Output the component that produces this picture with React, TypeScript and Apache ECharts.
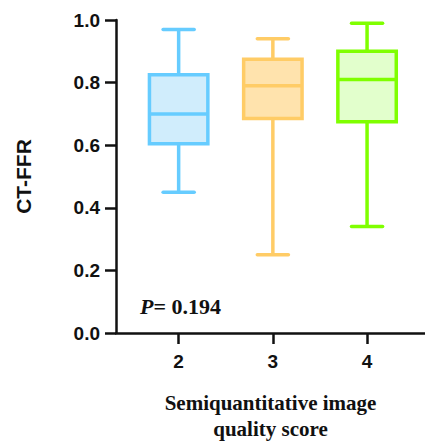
import React, { useEffect, useRef } from "react";
import * as echarts from "echarts";

const categories = [2, 3, 4];
// [min, Q1, median, Q3, max]
const boxStats = [
  [0.45, 0.605, 0.70, 0.825, 0.97],
  [0.25, 0.685, 0.79, 0.875, 0.94],
  [0.34, 0.675, 0.81, 0.90, 0.99],
];
const strokeColors = ["#66CCFF", "#FFCC66", "#7FFF00"];
const fillColors = ["#D0EDFC", "#FFE3AD", "#E2FFCC"];
const yTicks = [0, 0.2, 0.4, 0.6, 0.8, 1.0];
const pText = "= 0.194";

export default function App() {
  const ref = useRef<HTMLDivElement>(null);
  useEffect(() => {
    const chart = echarts.init(ref.current!, null, { renderer: "svg" });
    const data = categories.map((c, i) => [c, ...boxStats[i]]);
    const BOX_W = 0.62;
    const CAP_W = 0.33;
    chart.setOption({
      animation: false,
      grid: { left: 116, right: 0, top: 20, bottom: 109, containLabel: false, outerBoundsMode: "none" },
      xAxis: {
        type: "value",
        min: 1.335,
        max: 4.615,
        splitLine: { show: false },
        axisLine: { show: true, lineStyle: { color: "#111", width: 2.5 } },
        axisTick: { show: true, customValues: categories, length: 11, lineStyle: { color: "#111", width: 2.5 } },
        axisLabel: {
          customValues: categories,
          margin: 19,
          color: "#111",
          fontFamily: "Liberation Sans, Arial",
          fontWeight: "bold",
          fontSize: 19,
        },
        name: "Semiquantitative image\nquality score",
        nameLocation: "middle",
        nameGap: 57,
        nameTextStyle: {
          color: "#111",
          fontFamily: "Liberation Serif, Times New Roman",
          fontWeight: "bold",
          fontSize: 21,
          lineHeight: 26,
        },
      },
      yAxis: {
        type: "value",
        min: 0,
        max: 1,
        interval: 0.2,
        splitLine: { show: false },
        axisLine: { show: true, lineStyle: { color: "#111", width: 2.5 } },
        axisTick: { show: true, length: 11, lineStyle: { color: "#111", width: 2.5 } },
        axisLabel: {
          margin: 16,
          color: "#111",
          fontFamily: "Liberation Sans, Arial",
          fontWeight: "bold",
          fontSize: 19,
          formatter: (v: number) => (yTicks.includes(Math.round(v * 10) / 10) ? v.toFixed(1) : ""),
        },
        name: "CT-FFR",
        nameLocation: "middle",
        nameGap: 82,
        nameTextStyle: {
          color: "#111",
          fontFamily: "Liberation Sans, Arial",
          fontWeight: "bold",
          fontSize: 21,
        },
      },
      graphic: [
        {
          type: "text",
          x: 140,
          y: 295,
          style: {
            text: "{i|P}{n|" + pText + "}",
            rich: {
              i: { fontFamily: "Liberation Serif, Times New Roman", fontStyle: "italic", fontWeight: "bold", fontSize: 22, fill: "#111" },
              n: { fontFamily: "Liberation Serif, Times New Roman", fontWeight: "bold", fontSize: 22, fill: "#111" },
            },
          },
        },
      ],
      series: [
        {
          type: "custom",
          data,
          encode: { x: 0, y: [1, 2, 3, 4, 5] },
          renderItem: (params: any, api: any) => {
            const idx = params.dataIndex;
            const x = api.value(0);
            const mn = api.value(1), q1 = api.value(2), md = api.value(3), q3 = api.value(4), mx = api.value(5);
            const unit = api.size([1, 0])[0];
            const bw = unit * BOX_W;
            const cw = unit * CAP_W;
            const pMin = api.coord([x, mn]);
            const pQ1 = api.coord([x, q1]);
            const pMd = api.coord([x, md]);
            const pQ3 = api.coord([x, q3]);
            const pMx = api.coord([x, mx]);
            const cx = pMd[0];
            const stroke = strokeColors[idx];
            const lineStyle = { stroke, lineWidth: 3.5, lineCap: "round" };
            return {
              type: "group",
              children: [
                { type: "line", shape: { x1: cx, y1: pQ3[1], x2: cx, y2: pMx[1] }, style: { stroke, lineWidth: 3.5 } },
                { type: "line", shape: { x1: cx, y1: pQ1[1], x2: cx, y2: pMin[1] }, style: { stroke, lineWidth: 3.5 } },
                { type: "line", shape: { x1: cx - cw / 2, y1: pMx[1], x2: cx + cw / 2, y2: pMx[1] }, style: lineStyle },
                { type: "line", shape: { x1: cx - cw / 2, y1: pMin[1], x2: cx + cw / 2, y2: pMin[1] }, style: lineStyle },
                {
                  type: "rect",
                  shape: { x: cx - bw / 2, y: pQ3[1], width: bw, height: pQ1[1] - pQ3[1] },
                  style: { fill: fillColors[idx], stroke, lineWidth: 3.5 },
                },
                { type: "line", shape: { x1: cx - bw / 2, y1: pMd[1], x2: cx + bw / 2, y2: pMd[1] }, style: { stroke, lineWidth: 3.5 } },
              ],
            };
          },
        },
      ],
    });
    return () => chart.dispose();
  }, []);
  return <div ref={ref} style={{ position: "absolute", left: 0, top: 0, width: 425, height: 442 }} />;
}
